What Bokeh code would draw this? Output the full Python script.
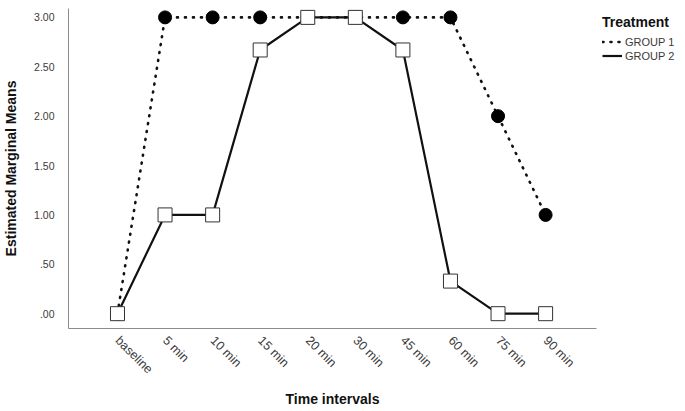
import math
from bokeh.plotting import figure
from bokeh.models import FixedTicker, Range1d, Legend, LegendItem
from bokeh.embed import file_html
from bokeh.resources import INLINE

categories = ["baseline", "5 min", "10 min", "15 min", "20 min", "30 min", "45 min", "60 min", "75 min", "90 min"]
group1 = [0.0, 3.0, 3.0, 3.0, 3.0, 3.0, 3.0, 3.0, 2.0, 1.0]
group2 = [0.0, 1.0, 1.0, 2.67, 3.0, 3.0, 2.67, 0.33, 0.0, 0.0]
y_ticks = [0.0, 0.5, 1.0, 1.5, 2.0, 2.5, 3.0]
y_tick_labels = [".00", ".50", "1.00", "1.50", "2.00", "2.50", "3.00"]

xs = list(range(len(categories)))
FONT = "Liberation Sans"

p = figure(frame_width=528, frame_height=320, output_backend="svg", toolbar_location=None,
           x_range=Range1d(-1.03, 10.07), y_range=Range1d(-0.15, 3.09),
           min_border_left=54, min_border_top=8, min_border_bottom=70, min_border_right=0)
p.outline_line_color = None
p.xgrid.grid_line_color = None
p.ygrid.grid_line_color = None
p.background_fill_color = "white"

r1 = p.line(xs, group1, line_color="#111111", line_width=2.6, line_dash="1 7", line_cap="round")
r2 = p.line(xs, group2, line_color="#111111", line_width=2.2)
p.scatter(xs, group1, marker="circle", size=13, fill_color="#000000", line_color="#000000")
p.scatter(xs, group2, marker="square", size=14, fill_color="white", line_color="#333333", line_width=1)

p.xaxis.ticker = FixedTicker(ticks=xs)
p.xaxis.major_label_overrides = {i: c for i, c in enumerate(categories)}
p.xaxis.major_label_orientation = -math.pi / 4
p.yaxis.ticker = FixedTicker(ticks=y_ticks)
p.yaxis.major_label_overrides = {t: l for t, l in zip(y_ticks, y_tick_labels)}

for ax in (p.xaxis, p.yaxis):
    ax.axis_line_color = "#8c8c8c"
    ax.axis_line_width = 1
    ax.major_tick_line_color = None
    ax.minor_tick_line_color = None
    ax.major_label_text_font = FONT
    ax.major_label_text_color = "#3a3a3a"
    ax.axis_label_text_font = FONT
    ax.axis_label_text_font_style = "bold"
    ax.axis_label_text_font_size = "14px"
    ax.axis_label_text_color = "#111111"

p.xaxis.major_label_text_font_size = "12.5px"
p.yaxis.major_label_text_font_size = "10.5px"
p.xaxis.axis_label = "Time intervals"
p.yaxis.axis_label = "Estimated Marginal Means"
p.xaxis.major_label_standoff = 4
p.yaxis.major_label_standoff = 8
p.xaxis.axis_label_standoff = 7
p.yaxis.axis_label_standoff = 12

legend = Legend(items=[LegendItem(label="GROUP 1", renderers=[r1]),
                       LegendItem(label="GROUP 2", renderers=[r2])],
                location="top_left", title="Treatment")
legend.title_text_font = FONT
legend.title_text_font_style = "bold"
legend.title_text_font_size = "14px"
legend.title_text_color = "#111111"
legend.label_text_font = FONT
legend.label_text_font_size = "11px"
legend.label_text_color = "#3a3a3a"
legend.border_line_color = None
legend.background_fill_alpha = 0
legend.glyph_width = 20
legend.glyph_height = 13
legend.label_standoff = 3
legend.spacing = 1
legend.padding = 2
legend.margin = 6
legend.label_height = 13
p.add_layout(legend, "right")

open("out.html", "w").write(file_html(p, INLINE))
